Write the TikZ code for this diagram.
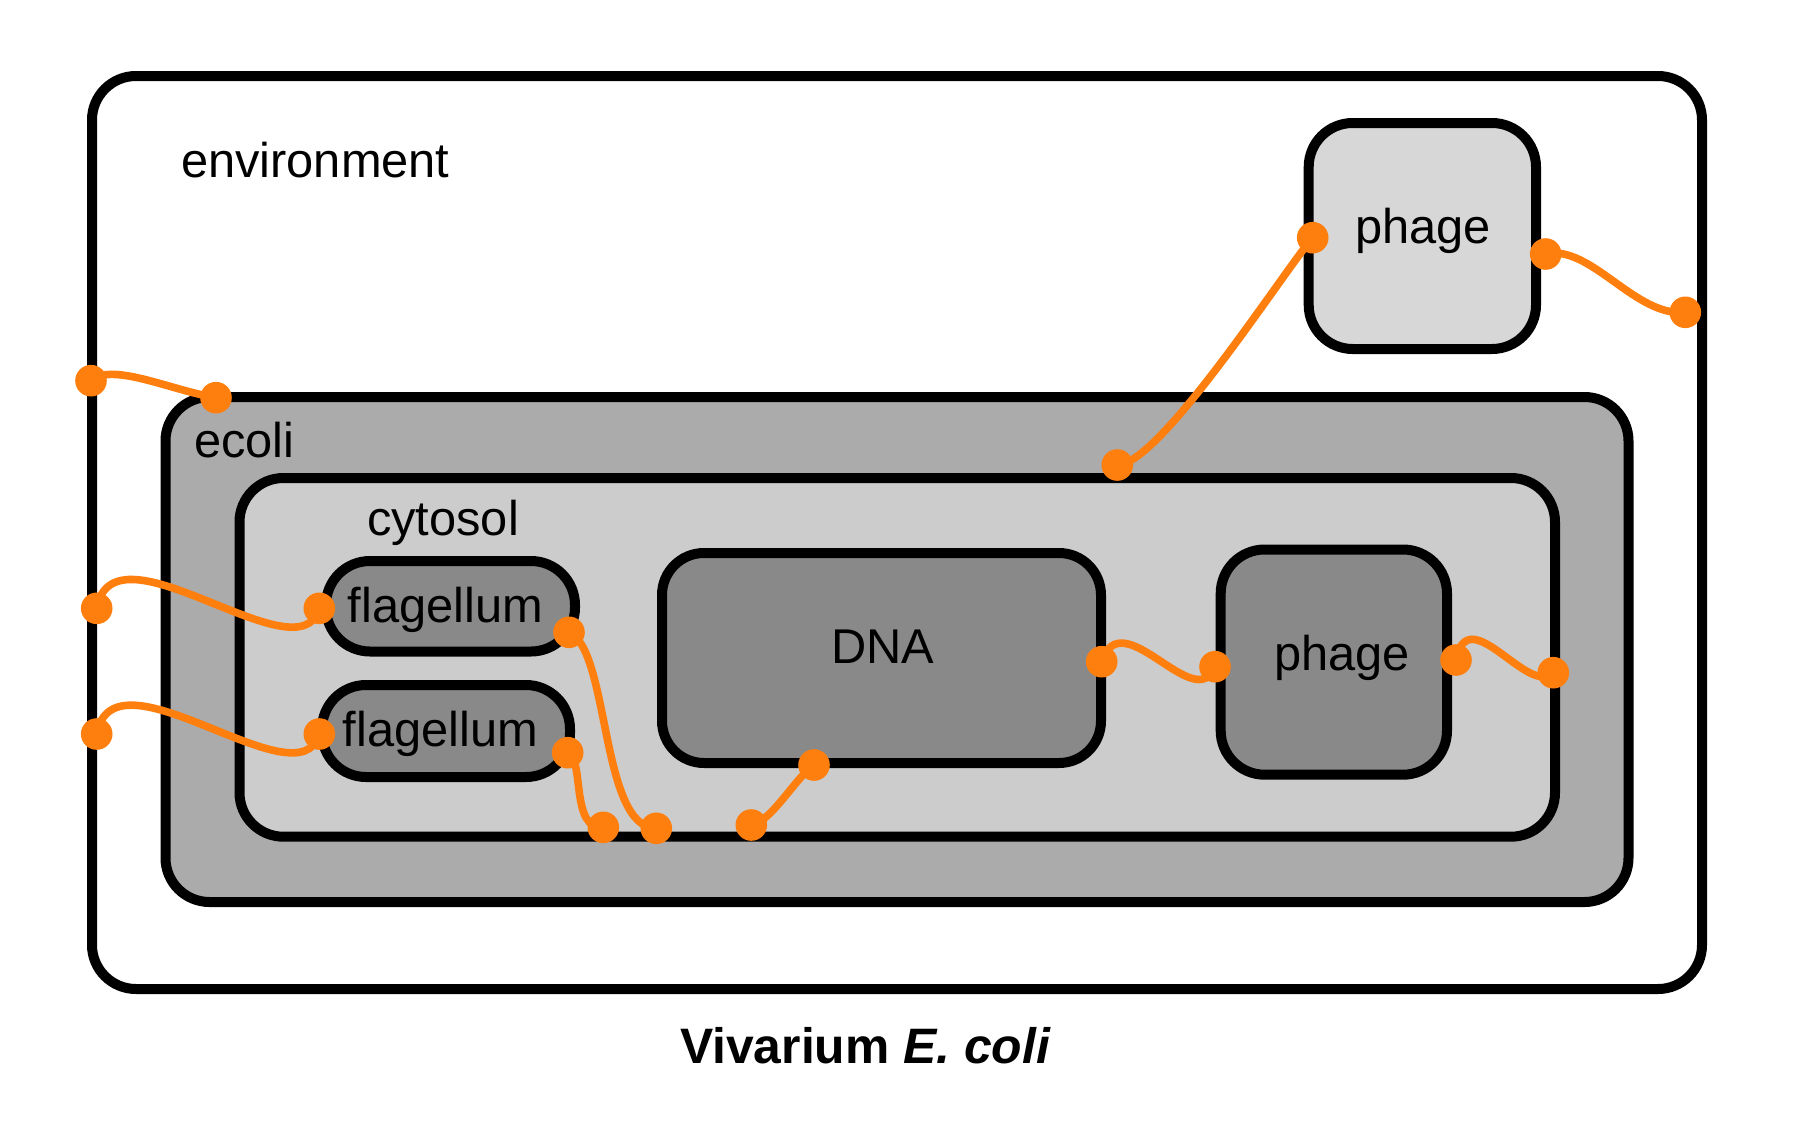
\documentclass[tikz,border=0pt]{standalone}
\usepackage{fontspec}
\setmainfont{Liberation Sans}
\definecolor{ecolifill}{HTML}{ABABAB}
\definecolor{cytofill}{HTML}{CCCCCC}
\definecolor{phagefill}{HTML}{D7D7D7}
\definecolor{innerfill}{HTML}{898989}
\definecolor{portorange}{HTML}{FF7F0E}
\begin{document}
\begin{tikzpicture}[x=0.5pt,y=-0.5pt,
  box/.style={draw=black, line width=5pt, rounded corners=22pt, inner sep=0pt, outer sep=0pt},
  lbl/.style={font=\fontsize{24.4}{29}\selectfont, inner sep=0pt, outer sep=0pt},
  wire/.style={draw=portorange, line width=3.8pt},
  portdot/.style={fill=portorange}]
\fill[white] (0,0) rectangle (1800,1125);
\useasboundingbox (0,0) rectangle (1800,1125);
% boxes
\node[box, fill=white, minimum width=805pt, minimum height=456.5pt] (env) at (897,532.5) {};
\node[box, fill=phagefill, minimum width=113.65pt, minimum height=113pt] (phagetop) at (1422.35,236) {};
\node[box, fill=ecolifill, minimum width=731.5pt, minimum height=252.5pt] (ecoli) at (897,649.5) {};
\node[box, fill=cytofill, minimum width=657.75pt, minimum height=179.35pt] (cyto) at (897.25,657.35) {};
\node[box, fill=innerfill, minimum width=124.5pt, minimum height=45.25pt] (flagA) at (450.5,606.25) {};
\node[box, fill=innerfill, minimum width=124pt, minimum height=46pt] (flagB) at (446,731) {};
\node[box, fill=innerfill, minimum width=219.5pt, minimum height=105pt, rounded corners=21pt] (dna) at (881.5,658) {};
\node[box, fill=innerfill, minimum width=113.15pt, minimum height=112.6pt] (phagein) at (1333.85,662.1) {};
% labels
\node[lbl, anchor=base west] (tenv) at (181,177) {environment};
\node[lbl, anchor=base west] (teco) at (194,457) {ecoli};
\node[lbl, anchor=base west] (tcyto) at (367,535) {cytosol};
\node[lbl, anchor=base] (tphtop) at (1423,243) {phage};
\node[lbl, anchor=base] (tphin) at (1342,670) {phage};
\node[lbl, anchor=base] (tdna) at (883,663) {DNA};
\node[lbl, anchor=base] (tflA) at (445.5,622) {flagellum};
\node[lbl, anchor=base] (tflB) at (440.5,746) {flagellum};
\node[lbl, anchor=base, font=\fontsize{24.9}{30}\selectfont] (title) at (865.5,1063) {\bfseries Vivarium \textit{E. coli}};
% ports
\coordinate (penvA) at (91,380.7);
\coordinate (peco) at (216,397.7);
\coordinate (penvB) at (96.7,608.3);
\coordinate (pflAl) at (319.3,608.3);
\coordinate (penvC) at (96.7,734);
\coordinate (pflBl) at (319.3,734);
\coordinate (pflAr) at (569,632.3);
\coordinate (pflBr) at (567.7,752.7);
\coordinate (pcA) at (603.3,827.3);
\coordinate (pcB) at (656.3,828.3);
\coordinate (pcC) at (751.3,825);
\coordinate (pdnab) at (814,765);
\coordinate (pdnar) at (1101.7,661.7);
\coordinate (pphinl) at (1215,666.7);
\coordinate (pphinr) at (1456,660);
\coordinate (pcytr) at (1553.3,672.7);
\coordinate (pcytt) at (1117.3,465);
\coordinate (pphtl) at (1312.7,237.7);
\coordinate (pphtr) at (1545.7,254);
\coordinate (penvr) at (1685.3,312.3);
% wires
\draw[wire] (penvA) .. controls +(21,-18.7) and +(-46,-7.7) .. (peco);
\draw[wire] (penvB) .. controls +(17,-92) and +(-20,72) .. (pflAl);
\draw[wire] (penvC) .. controls +(17,-92) and +(-20,72) .. (pflBl);
\draw[wire] (pflAr) .. controls +(41,17.7) and +(-56.3,0) .. (pcB);
\draw[wire] (pflBr) .. controls +(17.3,7.3) and +(-33.3,2.7) .. (pcA);
\draw[wire] (pcC) .. controls +(20,-3) and +(-18,12) .. (pdnab);
\draw[wire] (pdnar) .. controls +(20,-62) and +(-20,50) .. (pphinl);
\draw[wire] (pphinr) .. controls +(12,-62) and +(-25,25) .. (pcytr);
\draw[wire] (pcytt) .. controls +(42.7,0) and +(-28,32) .. (pphtl);
\draw[wire] (pphtr) .. controls +(45,-10) and +(-50,5) .. (penvr);
% port dots
\foreach \p in {penvA,peco,penvB,pflAl,penvC,pflBl,pflAr,pflBr,pcA,pcB,pcC,pdnab,pdnar,pphinl,pphinr,pcytr,pcytt,pphtl,pphtr,penvr}
  \fill[portdot] (\p) circle[radius=7.9pt];
\end{tikzpicture}
\end{document}
